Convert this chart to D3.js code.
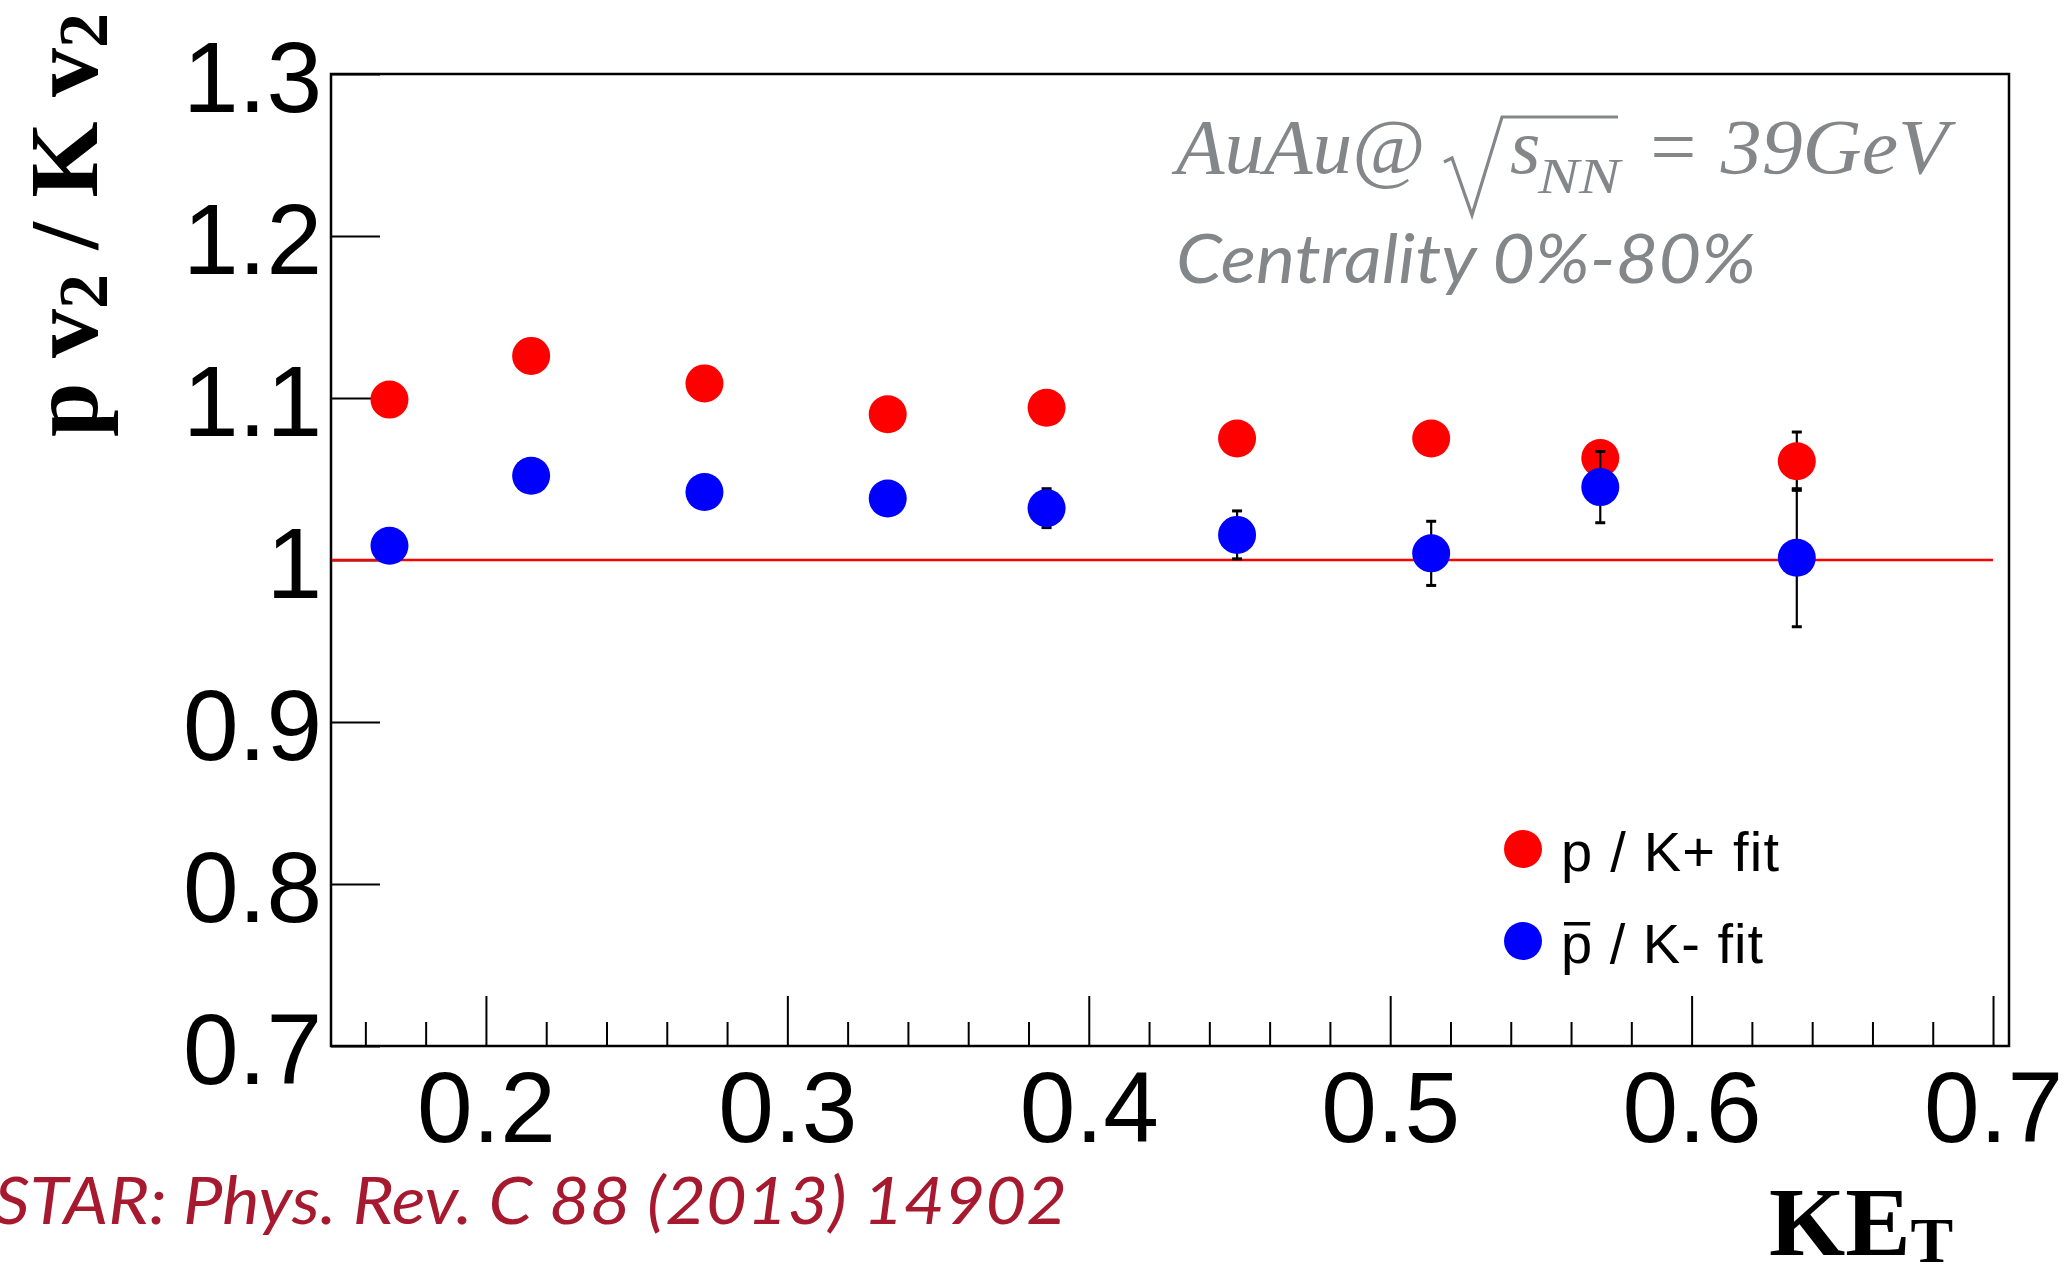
<!DOCTYPE html>
<html>
<head>
<meta charset="utf-8">
<script src="https://cdn.jsdelivr.net/npm/d3@7"></script>
<style>
  html, body { margin: 0; padding: 0; background: #fff; }
  svg { display: block; }
</style>
</head>
<body>
<svg id="chart" width="2069" height="1266"></svg>
<script>
// ---------------- data ----------------
const ket = [0.168, 0.215, 0.2725, 0.3333, 0.386, 0.4492, 0.5136, 0.5697, 0.6349];
const pKplus = [1.099, 1.126, 1.109, 1.090, 1.094, 1.075, 1.075, 1.063, 1.061];
const pKplusErr = [0.004, 0.004, 0.005, 0.005, 0.006, 0.007, 0.009, 0.010, 0.018];
const pbarKminus = [1.0088, 1.052, 1.042, 1.038, 1.032, 1.0155, 1.0041, 1.045, 1.0014];
const pbarKminusErr = [0.005, 0.006, 0.007, 0.008, 0.012, 0.0148, 0.0198, 0.022, 0.0426];
const xMajorTicks = [0.2, 0.3, 0.4, 0.5, 0.6, 0.7];
const xTickLabels = ["0.2", "0.3", "0.4", "0.5", "0.6", "0.7"];
const xMinorTicks = [0.16, 0.18, 0.22, 0.24, 0.26, 0.28, 0.32, 0.34, 0.36, 0.38,
                     0.42, 0.44, 0.46, 0.48, 0.52, 0.54, 0.56, 0.58, 0.62, 0.64, 0.66, 0.68];
const yTicks = [0.7, 0.8, 0.9, 1.0, 1.1, 1.2, 1.3];
const yTickLabels = ["0.7", "0.8", "0.9", "1", "1.1", "1.2", "1.3"];
const refLineY = 1.0;
const seriesNames = ["p / K+ fit", "p / K- fit"];

// ---------------- layout ----------------
const svg = d3.select("#chart");
const L = 331, R = 2009, T = 74, B = 1046;
const x = d3.scaleLinear().domain([0.1486, 0.7053]).range([L, R]);
const y = d3.scaleLinear().domain([0.7, 1.3]).range([B, T]);
const sans = "'Liberation Sans', Arial, Helvetica, sans-serif";
const serif = "'Liberation Serif', 'Times New Roman', Times, serif";
const geo = "Lato, 'Open Sans', sans-serif";
const gray = "#83878a";

// x axis (ticks inward)
const xAxis = svg.append("g").attr("transform", `translate(0,${B})`)
  .call(d3.axisBottom(x).tickValues(xMajorTicks)
        .tickFormat((d, i) => xTickLabels[i])
        .tickSizeInner(-50).tickSizeOuter(0).tickPadding(25));
xAxis.select(".domain").remove();
xAxis.selectAll("line").attr("stroke", "#000").attr("stroke-width", 2);
xAxis.selectAll("text").attr("font-family", sans).attr("font-size", 100).attr("fill", "#000");

const xMinor = svg.append("g").attr("transform", `translate(0,${B})`)
  .call(d3.axisBottom(x).tickValues(xMinorTicks).tickFormat("").tickSizeInner(-24).tickSizeOuter(0));
xMinor.select(".domain").remove();
xMinor.selectAll("line").attr("stroke", "#000").attr("stroke-width", 2);

// y axis
const yAxis = svg.append("g").attr("transform", `translate(${L},0)`)
  .call(d3.axisLeft(y).tickValues(yTicks)
        .tickFormat((d, i) => yTickLabels[i])
        .tickSizeInner(-49).tickSizeOuter(0).tickPadding(9));
yAxis.select(".domain").remove();
yAxis.selectAll("line").attr("stroke", "#000").attr("stroke-width", 2);
yAxis.selectAll("text").attr("font-family", sans).attr("font-size", 100).attr("fill", "#000")
  .attr("dy", "0.37em");

// frame
svg.append("rect").attr("x", L).attr("y", T).attr("width", R - L).attr("height", B - T)
  .attr("fill", "none").attr("stroke", "#000").attr("stroke-width", 2.5);

// reference line at 1
svg.append("line").attr("x1", x.range()[0] + 1).attr("x2", x(0.7))
  .attr("y1", y(refLineY)).attr("y2", y(refLineY))
  .attr("stroke", "#ff0000").attr("stroke-width", 2.5);

// data
const r = 19;
function drawSeries(vals, errs, color) {
  const g = svg.append("g");
  const pts = ket.map((k, i) => ({ k, v: vals[i], e: errs[i] }));
  pts.forEach(p => {
    const cx = x(p.k), yt = y(p.v + p.e), yb = y(p.v - p.e);
    g.append("line").attr("x1", cx).attr("x2", cx).attr("y1", yt).attr("y2", yb)
      .attr("stroke", "#000").attr("stroke-width", 2.2);
    [yt, yb].forEach(yy => g.append("rect").attr("x", cx - 5).attr("y", yy - 1.5)
      .attr("width", 10).attr("height", 3).attr("fill", "#000"));
  });
  g.selectAll("circle").data(pts).join("circle")
    .attr("cx", d => x(d.k)).attr("cy", d => y(d.v)).attr("r", r).attr("fill", color);
}
drawSeries(pKplus, pKplusErr, "#ff0000");
drawSeries(pbarKminus, pbarKminusErr, "#0000ff");

// legend
const legX = 1523;
const legRows = [{ cy: 849, color: "#ff0000", text: seriesNames[0], bar: false, len: 218 },
                 { cy: 941, color: "#0000ff", text: seriesNames[1], bar: true, len: 202 }];
legRows.forEach(row => {
  svg.append("circle").attr("cx", legX).attr("cy", row.cy).attr("r", r).attr("fill", row.color);
  const t = svg.append("text").attr("x", 1561).attr("y", row.cy + 22)
    .attr("font-family", sans).attr("font-size", 56).attr("fill", "#000")
    .attr("textLength", row.len)
    .text(row.text);
  if (row.bar) {
    const pw = t.node().getSubStringLength(0, 1);
    svg.append("rect").attr("x", 1564).attr("y", row.cy + 22 - 41)
      .attr("width", pw - 5).attr("height", 3.5).attr("fill", "#000");
  }
});

// annotation: AuAu@ sqrt(s_NN) = 39GeV
svg.append("text").attr("x", 1176).attr("y", 173)
  .attr("font-family", serif).attr("font-style", "italic").attr("font-size", 78)
  .attr("fill", gray).attr("textLength", 249).attr("lengthAdjust", "spacingAndGlyphs")
  .text("AuAu@");
svg.append("path").attr("d", "M1444,162 L1452,158 L1472,215 L1502,117 L1618,117")
  .attr("fill", "none").attr("stroke", gray).attr("stroke-width", 3.2)
  .attr("stroke-linejoin", "miter");
svg.append("text").attr("x", 1510).attr("y", 173)
  .attr("font-family", serif).attr("font-style", "italic").attr("font-size", 78)
  .attr("fill", gray).text("s");
svg.append("text").attr("x", 1538).attr("y", 193)
  .attr("font-family", serif).attr("font-style", "italic").attr("font-size", 50)
  .attr("fill", gray).attr("textLength", 82).attr("lengthAdjust", "spacingAndGlyphs").text("NN");
svg.append("text").attr("x", 1645).attr("y", 173)
  .attr("font-family", serif).attr("font-style", "italic").attr("font-size", 78)
  .attr("fill", gray).attr("textLength", 303).attr("lengthAdjust", "spacingAndGlyphs")
  .text("= 39GeV");

svg.append("text").attr("x", 1176).attr("y", 283)
  .attr("font-family", geo).attr("font-style", "italic").attr("font-size", 67)
  .attr("fill", gray).attr("textLength", 580).attr("lengthAdjust", "spacingAndGlyphs")
  .text("Centrality 0%-80%");

// citation
svg.append("text").attr("x", -6).attr("y", 1224)
  .attr("font-family", geo).attr("font-style", "italic").attr("font-size", 65)
  .attr("fill", "#a6192e").attr("textLength", 1073).attr("lengthAdjust", "spacingAndGlyphs")
  .text("STAR: Phys. Rev. C 88 (2013) 14902");

// y axis title (rotated)
const yt = svg.append("text").attr("transform", "translate(97,225) rotate(-90)")
  .attr("text-anchor", "middle").attr("font-family", serif).attr("font-weight", "bold")
  .attr("font-size", 98).attr("fill", "#000");
yt.append("tspan").text("p v");
yt.append("tspan").attr("font-size", 70).attr("dy", 10).text("2");
yt.append("tspan").attr("dy", -10).text(" / K v");
yt.append("tspan").attr("font-size", 70).attr("dy", 10).text("2");

// x axis title
const xt = svg.append("text").attr("x", 1769).attr("y", 1255)
  .attr("font-family", serif).attr("font-weight", "bold").attr("font-size", 98).attr("fill", "#000");
xt.append("tspan").text("KE");
xt.append("tspan").attr("font-size", 64).attr("dy", 7).text("T");
</script>
</body>
</html>
